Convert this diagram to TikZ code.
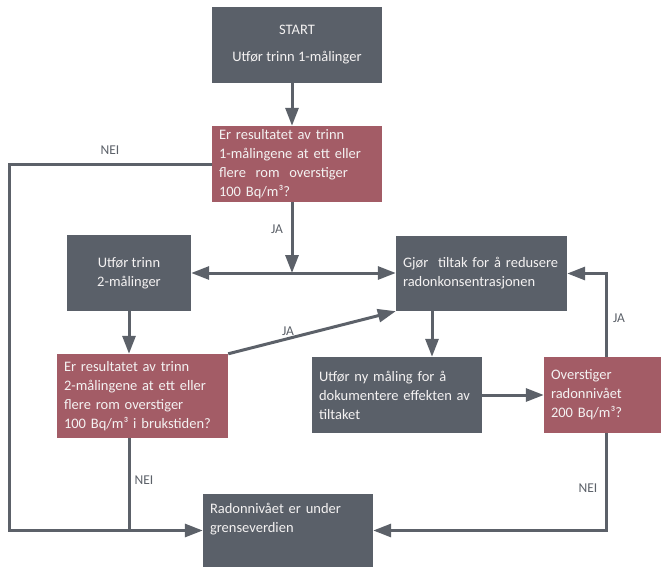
\documentclass[tikz,border=0pt]{standalone}
\usepackage{fontspec}
\setmainfont{Carlito}
\usetikzlibrary{arrows.meta,calc}
\definecolor{boxgray}{HTML}{5A6069}
\definecolor{boxred}{HTML}{A35C66}
\definecolor{linegray}{HTML}{5C6169}
\definecolor{boxtext}{HTML}{F4F2F2}
\begin{document}
\begin{tikzpicture}[x=1pt,y=-1pt,
  base/.style={rectangle, inner sep=0pt, text=boxtext, font=\fontsize{14.5}{19}\selectfont},
  graybox/.style={base, fill=boxgray},
  redbox/.style={base, fill=boxred},
  conn/.style={draw=linegray, line width=3pt, -{Triangle[length=18pt,width=13pt]}},
  plain/.style={draw=linegray, line width=3pt},
  lbl/.style={text=linegray, inner sep=0pt, font=\fontsize{13.5}{16}\selectfont}
]
\useasboundingbox (0,0) rectangle (661,567);
\fill[white] (0,0) rectangle (661,567);

% nodes
\node[graybox, minimum width=170pt, minimum height=76pt, align=center] (start) at (297,45)
  {START\\[8pt]Utfør trinn 1-målinger};
\node[redbox, minimum width=170pt, minimum height=76pt, text width=156pt, align=left] (q1) at (297,164)
  {Er resultatet av trinn\\1-målingene at ett eller\\flere~ rom~ overstiger\\100 Bq/m³?};
\node[graybox, minimum width=124pt, minimum height=76pt, align=center] (trinn2) at (129,273)
  {Utfør trinn\\2-målinger};
\node[redbox, minimum width=171pt, minimum height=84pt, text width=157pt, align=left] (q2) at (142.5,396)
  {Er resultatet av trinn\\2-målingene at ett eller\\flere rom overstiger\\100 Bq/m³ i brukstiden?};
\node[graybox, minimum width=171pt, minimum height=75pt, text width=157pt, align=left] (gjor) at (481.5,273.5)
  {Gjør~ tiltak for å redusere\\radonkonsentrasjonen};
\node[graybox, minimum width=170pt, minimum height=76pt, text width=156pt, align=left] (ny) at (397,395)
  {Utfør ny måling for å\\dokumentere effekten av\\tiltaket};
\node[redbox, minimum width=117pt, minimum height=76pt, text width=103pt, align=left] (over) at (602.5,395)
  {Overstiger\\radonnivået\\200 Bq/m³?};
\node[graybox, minimum width=170pt, minimum height=73pt, text width=156pt, align=left] (radon) at (288,530.5)
  {Radonnivået er under\\grenseverdien\\\strut};

% helper coordinates
\coordinate (xa) at (292,0);
\coordinate (xl) at (9,0);
\coordinate (xg) at (432,0);
\coordinate (xr) at (606,0);

% connectors
\draw[conn] (start.south -| xa) -- (q1.north -| xa);
\draw[conn] (q1.south -| xa) -- (xa |- trinn2.east);
\draw[draw=linegray, line width=3pt, {Triangle[length=18pt,width=13pt]}-{Triangle[length=18pt,width=13pt]}]
  (trinn2.east) -- (trinn2.east -| gjor.west);
\draw[conn] (q1.west) -- (q1.west -| xl) -- (xl |- radon.west) -- (radon.west);
\draw[conn] (trinn2.south) -- (trinn2.south |- q2.north);
\draw[plain] (q2.south -| trinn2.south) -- (trinn2.south |- radon.west);
\draw[conn] (q2.north east) -- (gjor.south west);
\draw[conn] (gjor.south -| xg) -- (ny.north -| xg);
\draw[conn] (ny.east) -- (over.west |- ny.east);
\draw[conn] (over.north -| xr) -- (xr |- gjor.east) -- (gjor.east);
\draw[conn] (over.south -| xr) -- (xr |- radon.east) -- (radon.east);

% labels
\node[lbl] (l1) at (110,150) {NEI};
\node[lbl] (l2) at (277,229) {JA};
\node[lbl] (l3) at (288,331) {JA};
\node[lbl] (l4) at (144,480) {NEI};
\node[lbl] (l5) at (619,318) {JA};
\node[lbl] (l6) at (588,488) {NEI};
\end{tikzpicture}
\end{document}
